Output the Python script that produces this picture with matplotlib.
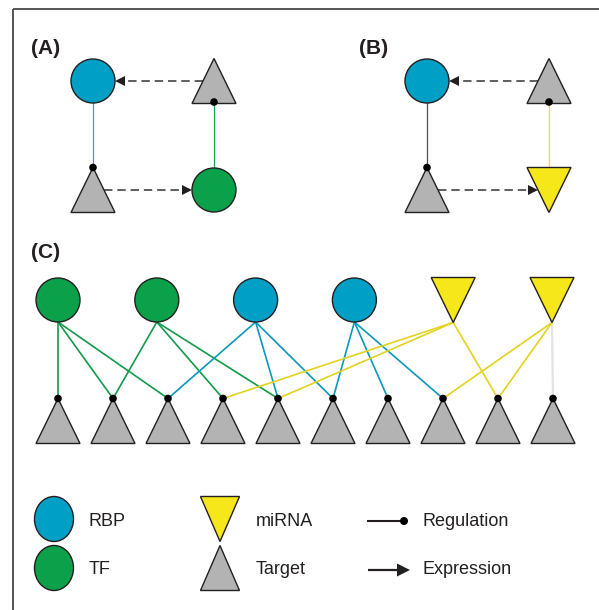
import matplotlib.pyplot as plt
from matplotlib.patches import Circle, Ellipse, Polygon

plt.rcParams['font.family'] = ['Liberation Sans', 'DejaVu Sans']

# ─── DATA ─────────────────────────────────────────────────────
COLORS = {"RBP": "#00A0C6", "TF": "#0BA04A", "miRNA": "#F5E71A", "Target": "#B3B3B3"}
EDGE_COLORS = {"RBP": "#0A98BE", "TF": "#119B4A", "miRNA": "#E2D31E"}

# motifs (A) and (B): 2x2 grid, keys are grid cells
motif_a = {"tl": "RBP", "tr": "Target", "bl": "Target", "br": "TF"}
motif_b = {"tl": "RBP", "tr": "Target", "bl": "Target", "br": "miRNA"}
motif_reg = [("tl", "bl"), ("br", "tr")]      # regulation: source -> target
motif_expr = [("tr", "tl"), ("bl", "br")]     # expression: gene -> product
motif_reg_colors = {"A": ["#2BA9D0", "#11A84A"], "B": ["#4D4D4D", "#F2E600"]}

# network (C)
top_kinds = ["TF", "TF", "RBP", "RBP", "miRNA", "miRNA"]
n_targets = 10
reg_edges = [(0, 0), (0, 1), (0, 2),
             (1, 1), (1, 3), (1, 4),
             (2, 2), (2, 4), (2, 5),
             (3, 5), (3, 6), (3, 7),
             (4, 3), (4, 4), (4, 8),
             (5, 7), (5, 8)]
weak_edges = [(5, 9)]

legend_nodes = [["RBP", "TF"], ["miRNA", "Target"]]
legend_edges = ["Regulation", "Expression"]

# ─── LAYOUT ───────────────────────────────────────────────────
R = 22          # circle radius
HW, HH = 22, 22.5  # triangle half width / half height
DOT = 3.8
INK = "#231F20"

fig = plt.figure(figsize=(5.99, 6.10), dpi=100)
ax = fig.add_axes([0, 0, 1, 1])
ax.set_xlim(0, 599)
ax.set_ylim(610, 0)
ax.axis("off")

# frame: only top and left lines
ax.plot([13, 599], [9, 9], color="#555555", lw=1.4, solid_capstyle="butt")
ax.plot([13, 13], [9, 610], color="#555555", lw=1.4, solid_capstyle="butt")


def draw_node(kind, x, y, w=HW, h=HH, legend=False):
    if kind in ("RBP", "TF"):
        if legend:
            p = Ellipse((x, y), 2 * w, 2 * h, fc=COLORS[kind], ec=INK, lw=1.0, zorder=3)
        else:
            p = Circle((x, y), R, fc=COLORS[kind], ec=INK, lw=1.0, zorder=3)
    elif kind == "miRNA":
        p = Polygon([(x - w, y - h), (x + w, y - h), (x, y + h)],
                    closed=True, fc=COLORS[kind], ec=INK, lw=1.0, zorder=3, joinstyle="miter")
    else:
        p = Polygon([(x - w, y + h), (x + w, y + h), (x, y - h)],
                    closed=True, fc=COLORS[kind], ec=INK, lw=1.0, zorder=3, joinstyle="miter")
    ax.add_patch(p)


def dot(x, y, r=DOT):
    ax.add_patch(Circle((x, y), r, fc="black", ec="none", zorder=5))


def arrow_head(tx, ty, direction, length=10, half=5):
    bx = tx - direction * length
    ax.add_patch(Polygon([(tx, ty), (bx, ty - half), (bx, ty + half)],
                         closed=True, fc=INK, ec="none", zorder=5))


def side_offset(kind):
    # horizontal distance from centre to the outline at mid height
    return R if kind in ("RBP", "TF") else HW / 2


def draw_motif(motif, cols, rows, colors):
    pos = {"tl": (cols[0], rows[0]), "tr": (cols[1], rows[0]),
           "bl": (cols[0], rows[1]), "br": (cols[1], rows[1])}
    for cell, kind in motif.items():
        draw_node(kind, *pos[cell])
    for (src, dst), c in zip(motif_reg, colors):
        sx, sy = pos[src]
        dx, dy = pos[dst]
        going_down = dy > sy
        y0 = sy + (R if going_down else -R) if motif[src] != "miRNA" else sy - HH
        y1 = dy - HH if going_down else dy + HH - 1.5
        ax.plot([sx, dx], [y0, y1], color=c, lw=0.9, zorder=2)
        dot(dx, y1)
    for src, dst in motif_expr:
        sx, sy = pos[src]
        dx, dy = pos[dst]
        d = 1 if dx > sx else -1
        x0 = sx + d * side_offset(motif[src])
        x1 = dx - d * side_offset(motif[dst])
        ax.plot([x0, x1 - d * 9], [sy, dy], color="#333333", lw=1.1,
                dashes=(5.5, 3.2), zorder=2)
        arrow_head(x1, dy, d)


draw_motif(motif_a, (93, 214), (81, 190), motif_reg_colors["A"])
draw_motif(motif_b, (427, 549), (81, 190), motif_reg_colors["B"])

# ─── NETWORK (C) ──────────────────────────────────────────────
top_x = [58 + 98.8 * i for i in range(len(top_kinds))]
top_y = 300
tgt_x = [58 + 55 * j for j in range(n_targets)]
tgt_y = 421

for i, j in reg_edges:
    kind = top_kinds[i]
    y0 = top_y + (HH if kind == "miRNA" else R)
    ax.plot([top_x[i], tgt_x[j]], [y0, tgt_y - HH], color=EDGE_COLORS[kind],
            lw=1.2, zorder=2)
for i, j in weak_edges:
    y0 = top_y + HH
    ax.plot([top_x[i], tgt_x[j]], [y0, tgt_y - HH], color="#E3E3E3", lw=1.6, zorder=1)

for k, x in zip(top_kinds, top_x):
    draw_node(k, x, top_y)
for x in tgt_x:
    draw_node("Target", x, tgt_y)
    dot(x, tgt_y - HH)

# ─── LABELS ───────────────────────────────────────────────────
for lab, x, y in [("(A)", 31, 49), ("(B)", 359, 49), ("(C)", 31, 252)]:
    ax.text(x, y, lab, fontsize=15, fontweight="bold", color=INK,
            ha="left", va="center")

# ─── LEGEND ───────────────────────────────────────────────────
leg_cols = [54, 220]
leg_rows = [519, 568]
leg_text_x = [89, 256]
for c, kinds in enumerate(legend_nodes):
    for r, kind in enumerate(kinds):
        draw_node(kind, leg_cols[c], leg_rows[r], w=19.5, h=22.5, legend=True)
        ax.text(leg_text_x[c], leg_rows[r] + 2, kind, fontsize=13, color=INK,
                ha="left", va="center")

for r, name in enumerate(legend_edges):
    y = leg_rows[r] + 2
    if name == "Regulation":
        ax.plot([367, 403], [y, y], color=INK, lw=1.5, solid_capstyle="butt")
        dot(404, y, 4)
    else:
        ax.plot([368, 398], [y, y], color=INK, lw=1.6, solid_capstyle="butt")
        arrow_head(410, y, 1, length=13, half=6.5)
    ax.text(423, y, name, fontsize=13, color=INK, ha="left", va="center")

fig.savefig("out.png", dpi=100)
